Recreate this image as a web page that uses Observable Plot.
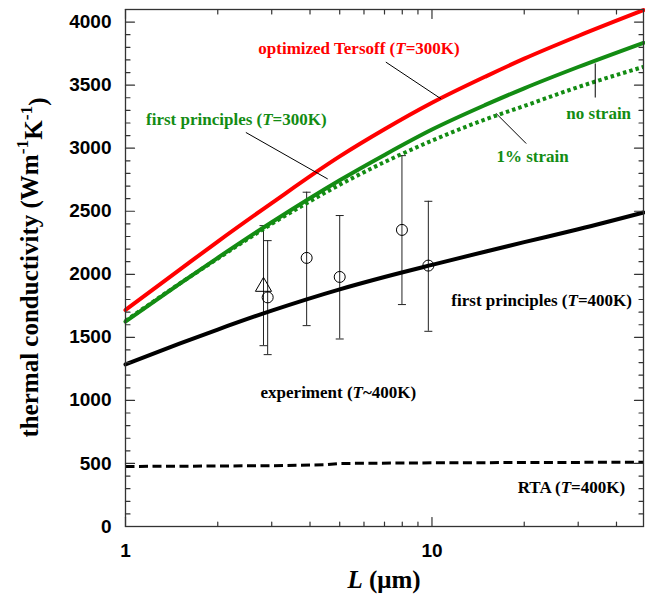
<!DOCTYPE html>
<html><head><meta charset="utf-8">
<script src="https://cdn.jsdelivr.net/npm/d3@7"></script>
<script src="https://cdn.jsdelivr.net/npm/@observablehq/plot@0.6"></script>
<style>body{margin:0;background:#fff} #chart svg{display:block;background:#fff}</style>
</head><body><div id="chart"></div><script>
// ---- data ----
const L_grid = [1, 1.5, 2, 3, 5, 7, 10, 15, 20, 30, 49];
const kTersoff300 = [1717, 2035, 2260, 2565, 2935, 3150, 3360, 3570, 3710, 3890, 4095];
const kFP300 = [1625, 1924, 2131, 2413, 2746, 2947, 3148, 3345, 3475, 3644, 3836];
const kFP300strain = [1630, 1925, 2125, 2400, 2710, 2890, 3060, 3230, 3335, 3485, 3645];
const kFP400 = [1285, 1450, 1562, 1712, 1881, 1979, 2075, 2181, 2255, 2357, 2490];
const L_rta = [1, 3, 4.5, 5, 10, 49];
const kRTA = [476, 482, 490, 500, 505, 510];

const expL = [2.91, 3.9, 5.0, 7.98, 9.73];
const expK = [1817, 2130, 1979, 2352, 2069];
const expLo = [1363, 1593, 1487, 1760, 1548];
const expHi = [2267, 2651, 2466, 2941, 2579];
const triL = [2.82];
const triK = [1902];
const triLo = [1434];
const triHi = [2386];

const yMajor = [0, 500, 1000, 1500, 2000, 2500, 3000, 3500, 4000];
const yMinor = d3.range(0, 4101, 100).filter(v => v % 500 !== 0);
const xMajor = [1, 10];
const xMinor = [2, 3, 4, 5, 6, 7, 8, 9, 20, 30, 40];

const annText = ["optimized Tersoff (T=300K)", "first principles (T=300K)", "no strain", "1% strain",
                 "first principles (T=400K)", "experiment (T~400K)", "RTA (T=400K)"];
const annSeries = ["tersoff", "fp300", "fp300", "fp300", "fp400", "exp", "rta"];
const annL = [5.78, 2.30, 35.0, 21.3, 22.8, 4.95, 28.5];
const annK = [3792, 3225, 3275, 2937, 1791, 1061, 306];

const leadL1 = [7.07, 2.47, 34.1, 16.2];
const leadK1 = [3683, 3125, 3672, 3275];
const leadL2 = [10.7, 4.57, 34.1, 20.3];
const leadK2 = [3392, 2756, 3402, 3037];

// ---- styles ----
const RED = "#ff0000", GREEN = "#138c13", BLACK = "#000";
const seriesColor = {tersoff: RED, fp300: GREEN, fp400: BLACK, exp: BLACK, rta: BLACK};
const SERIF = "Liberation Serif, Times New Roman, serif";
const SANS = "Liberation Sans, Arial, sans-serif";
const AX = "#333";

const rows = (ks) => L_grid.map((L, i) => ({L, k: ks[i]}));
const rta = L_rta.map((L, i) => ({L, k: kRTA[i]}));
const exp = expL.map((L, i) => ({L, k: expK[i], lo: expLo[i], hi: expHi[i]}));
const tri = triL.map((L, i) => ({L, k: triK[i], lo: triLo[i], hi: triHi[i]}));
const ann = annText.map((t, i) => ({t, L: annL[i], k: annK[i], c: seriesColor[annSeries[i]]}));
const leads = leadL1.map((L, i) => ({L1: L, k1: leadK1[i], L2: leadL2[i], k2: leadK2[i]}));

const tickShape = {draw(ctx, l) { ctx.moveTo(0, 0); ctx.lineTo(0, -l); }};
const capSym = {draw(ctx) { ctx.moveTo(-4, 0); ctx.lineTo(4, 0); }};
const allErr = exp.concat(tri);

function ticksY(vals, len) {
  return [
    Plot.vector(vals, {y: d => d, frameAnchor: "left", rotate: 90, length: len, anchor: "start", shape: tickShape, stroke: AX, strokeWidth: 1.2}),
    Plot.vector(vals, {y: d => d, frameAnchor: "right", rotate: -90, length: len, anchor: "start", shape: tickShape, stroke: AX, strokeWidth: 1.2})
  ];
}
function ticksX(vals, len) {
  return [
    Plot.vector(vals, {x: d => d, frameAnchor: "bottom", rotate: 0, length: len, anchor: "start", shape: tickShape, stroke: AX, strokeWidth: 1.2}),
    Plot.vector(vals, {x: d => d, frameAnchor: "top", rotate: 180, length: len, anchor: "start", shape: tickShape, stroke: AX, strokeWidth: 1.2})
  ];
}

const plot = Plot.plot({
  width: 645, height: 602,
  marginLeft: 125, marginRight: 2, marginTop: 9, marginBottom: 76,
  x: {type: "log", domain: [1, 49]},
  y: {domain: [0, 4100]},
  marks: [
    // error bars
    Plot.ruleX(allErr, {x: "L", y1: "lo", y2: "hi", stroke: "#222", strokeWidth: 1}),
    Plot.dot(allErr, {x: "L", y: "lo", symbol: capSym, stroke: "#222", strokeWidth: 1, r: 4}),
    Plot.dot(allErr, {x: "L", y: "hi", symbol: capSym, stroke: "#222", strokeWidth: 1, r: 4}),
    // curves
    Plot.line(rta, {x: "L", y: "k", stroke: BLACK, strokeWidth: 3, strokeDasharray: "9,4.5", strokeLinecap: "butt"}),
    Plot.line(rows(kFP400), {x: "L", y: "k", stroke: BLACK, strokeWidth: 4, curve: "monotone-x"}),
    Plot.line(rows(kFP300strain), {x: "L", y: "k", stroke: GREEN, strokeWidth: 4, strokeDasharray: "3.5,3", strokeLinecap: "butt", curve: "monotone-x"}),
    Plot.line(rows(kFP300), {x: "L", y: "k", stroke: GREEN, strokeWidth: 4, curve: "monotone-x"}),
    Plot.line(rows(kTersoff300), {x: "L", y: "k", stroke: RED, strokeWidth: 4, curve: "monotone-x"}),
    // experiment points
    Plot.dot(exp, {x: "L", y: "k", r: 5.5, stroke: BLACK, fill: "none", strokeWidth: 1}),
    Plot.dot(tri, {x: "L", y: "k", r: 6, symbol: "triangle", stroke: BLACK, fill: "none", strokeWidth: 1}),
    // leader lines
    Plot.link(leads, {x1: "L1", y1: "k1", x2: "L2", y2: "k2", stroke: BLACK, strokeWidth: 1}),
    // annotations
    Plot.text(ann, {x: "L", y: "k", text: "t", fill: "c", fontFamily: SERIF, fontWeight: "bold", fontSize: 17}),
    // frame and inward ticks
    Plot.frame({stroke: AX, strokeWidth: 1.3}),
    ...ticksY(yMajor, 9), ...ticksY(yMinor, 4.5),
    ...ticksX(xMajor, 9), ...ticksX(xMinor, 4.5),
    Plot.axisY({ticks: yMajor, tickFormat: d => String(d), tickSize: 0, tickPadding: 14, label: null, fontSize: 19, fontWeight: "bold", fontFamily: SANS, fill: "#000"}),
    Plot.axisX({ticks: xMajor, tickFormat: d => String(d), tickSize: 0, tickPadding: 17, label: null, fontSize: 19, fontWeight: "bold", fontFamily: SANS, fill: "#000"})
  ]
});

document.getElementById("chart").appendChild(plot);
const svg = d3.select(plot);

// annotation text: serif bold, italic T
svg.selectAll("text").each(function () {
  const t = this.textContent;
  if (!annText.includes(t)) return;
  const el = d3.select(this)
    .attr("font-family", SERIF).attr("font-weight", "bold")
    .style("font-family", SERIF).style("font-weight", "bold").style("font-size", "17px");
  const m = t.match(/^(.*\()T([=~].*)$/);
  if (m) {
    el.text(null);
    el.append("tspan").text(m[1]);
    el.append("tspan").attr("font-style", "italic").text("T");
    el.append("tspan").text(m[2]);
  }
});

// axis titles
const xr = plot.scale("x").range, yr = plot.scale("y").range;
const xl = svg.append("text")
  .attr("x", (xr[0] + xr[1]) / 2).attr("y", 588)
  .attr("text-anchor", "middle")
  .attr("font-family", SERIF).attr("font-weight", "bold").attr("font-size", 25).attr("fill", "#000");
xl.append("tspan").attr("font-style", "italic").text("L");
xl.append("tspan").text(" (μm)");

const yl = svg.append("text")
  .attr("transform", `translate(29,${(yr[0] + yr[1]) / 2}) rotate(-90)`)
  .attr("text-anchor", "middle").attr("dy", "0.35em")
  .attr("font-family", SERIF).attr("font-weight", "bold").attr("font-size", 25).attr("fill", "#000");
yl.append("tspan").text("thermal conductivity (Wm");
yl.append("tspan").attr("font-size", "70%").attr("dy", "-0.55em").text("-1");
yl.append("tspan").attr("dy", "0.55em").text("K");
yl.append("tspan").attr("font-size", "70%").attr("dy", "-0.55em").text("-1");
yl.append("tspan").attr("dy", "0.55em").text(")");
</script></body></html>
